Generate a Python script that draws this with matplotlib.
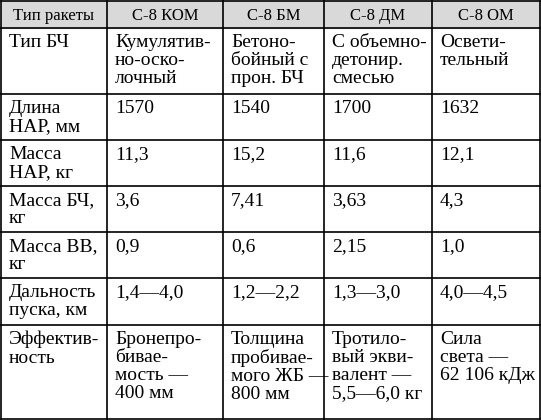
import matplotlib
matplotlib.use("Agg")
import matplotlib.pyplot as plt
from matplotlib.patches import Rectangle

plt.rcParams["font.family"] = ["Liberation Serif", "DejaVu Serif"]

header = ["Тип ракеты", "С-8 КОМ", "С-8 БМ", "С-8 ДМ", "С-8 ОМ"]
row_labels = ["Тип БЧ", "Длина\nНАР, мм", "Масса\nНАР, кг", "Масса БЧ,\nкг",
              "Масса ВВ,\nкг", "Дальность\nпуска, км", "Эффектив-\nность"]
kom = ["Кумулятив-\nно-оско-\nлочный", "1570", "11,3", "3,6", "0,9", "1,4—4,0",
       "Бронепро-\nбивае-\nмость —\n400 мм"]
bm = ["Бетоно-\nбойный с\nпрон. БЧ", "1540", "15,2", "7,41", "0,6", "1,2—2,2",
      "Толщина\nпробивае-\nмого ЖБ —\n800 мм"]
dm = ["С объемно-\nдетонир.\nсмесью", "1700", "11,6", "3,63", "2,15", "1,3—3,0",
      "Тротило-\nвый экви-\nвалент —\n5,5—6,0 кг"]
om = ["Освети-\nтельный", "1632", "12,1", "4,3", "1,0", "4,0—4,5",
      "Сила\nсвета —\n62 106 кДж"]

col_edges = [1, 107, 223, 324, 432, 540]
row_edges = [1, 28, 94, 140, 186, 232, 278, 325, 419]

W, H = 541, 420
fig = plt.figure(figsize=(W / 100, H / 100), dpi=100)
ax = fig.add_axes([0, 0, 1, 1])
ax.set_xlim(0, W)
ax.set_ylim(H, 0)
ax.axis("off")

ax.add_patch(Rectangle((col_edges[0], row_edges[0]), col_edges[-1] - col_edges[0],
                       row_edges[1] - row_edges[0], color="#d9d9d9", zorder=0))
for x in col_edges:
    ax.plot([x, x], [row_edges[0], row_edges[-1]], color="black", lw=1.2)
for y in row_edges:
    ax.plot([col_edges[0], col_edges[-1]], [y, y], color="black", lw=1.2)

for j, h in enumerate(header):
    ax.text((col_edges[j] + col_edges[j + 1]) / 2, (row_edges[0] + row_edges[1]) / 2 + 1,
            h, ha="center", va="center", fontsize=12)

columns = [row_labels, kom, bm, dm, om]
for j, col in enumerate(columns):
    for i, txt in enumerate(col):
        ax.text(col_edges[j] + 8, row_edges[i + 1] + 6, txt, ha="left", va="top",
                fontsize=14, linespacing=1.08)

fig.savefig("out.png", dpi=100)
